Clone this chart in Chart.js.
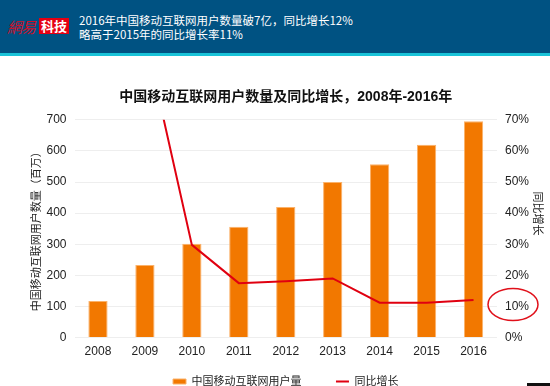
<!DOCTYPE html>
<html>
<head>
<meta charset="utf-8">
<script src="https://cdn.jsdelivr.net/npm/chart.js@4.4.0/dist/chart.umd.min.js"></script>
<style>
  html, body { margin: 0; padding: 0; background: #fff; }
  body { width: 550px; height: 386px; position: relative; overflow: hidden;
         font-family: "Liberation Sans", "Noto Sans CJK SC", sans-serif; }
  #banner { position: absolute; left: 0; top: 0; width: 550px; height: 53px; background: #005282; }
  #stripe { position: absolute; left: 0; top: 53px; width: 550px; height: 3px; background: #19c3d8; }
  #logo1 { position: absolute; left: 7px; top: 16px; color: #d0102a; font-size: 15px;
           font-family: "Noto Sans CJK TC", serif; font-style: italic; letter-spacing: -1px; }
  #logo2 { position: absolute; left: 39px; top: 18px; width: 30px; height: 16px; background: #e60012;
           color: #fff; font-size: 13px; font-weight: bold; line-height: 16px; text-align: center;
           font-family: "Noto Sans CJK SC", serif; }
  #head { position: absolute; left: 79px; top: 13px; color: #fff; font-size: 11.5px; line-height: 14px;
          font-family: "Noto Sans CJK SC", sans-serif; }
  #box { position: absolute; left: 0; top: 56px; width: 550px; height: 330px; }
  #corner { position: absolute; left: 527px; top: 383px; width: 23px; height: 3px; background: #111; }
</style>
</head>
<body>
<div id="banner"></div>
<div id="stripe"></div>
<div id="logo1">網易</div>
<div id="logo2">科技</div>
<div id="head">2016年中国移动互联网用户数量破7亿，同比增长12%<br>略高于2015年的同比增长率11%</div>
<div id="box"><canvas id="chart"></canvas></div>
<div id="corner"></div>
<script>
const years = ['2008', '2009', '2010', '2011', '2012', '2013', '2014', '2015', '2016'];
const users = [118, 233, 302, 356, 420, 500, 557, 620, 695];
const growth = [null, 97, 29.8, 17.5, 18.1, 19.0, 11.2, 11.2, 12.1];
const userTicks = [0, 100, 200, 300, 400, 500, 600, 700];
const growthTicks = [0, 10, 20, 30, 40, 50, 60, 70];

const cjk = '"Liberation Sans", "Noto Sans CJK SC", sans-serif';

// red ring drawn around the 10% label on the right axis
const ringPlugin = {
  id: 'ring',
  afterDraw(chart) {
    const ctx = chart.ctx;
    const y1 = chart.scales.y1;
    const cy = y1.getPixelForValue(10) - 2;
    const cx = chart.chartArea.right + 16;
    ctx.save();
    ctx.strokeStyle = '#e0101a';
    ctx.lineWidth = 1.5;
    ctx.beginPath();
    ctx.ellipse(cx, cy, 25, 16, 0, 0, Math.PI * 2);
    ctx.stroke();
    ctx.restore();
  }
};

// legend sits lower than chart.js puts it, trim the spare space under it
const legendFitPlugin = {
  id: 'legendFit',
  beforeInit(chart) {
    const fit = chart.legend.fit;
    chart.legend.fit = function () {
      fit.call(this);
      this.height -= 11;
    };
  }
};

new Chart(document.getElementById('chart').getContext('2d'), {
  data: {
    labels: years,
    datasets: [
      {
        type: 'line',
        label: '同比增长',
        data: growth,
        yAxisID: 'y1',
        borderColor: '#e00010',
        backgroundColor: '#e00010',
        borderWidth: 2,
        pointRadius: 0,
        tension: 0,
        order: 0
      },
      {
        type: 'bar',
        label: '中国移动互联网用户量',
        data: users,
        yAxisID: 'y',
        backgroundColor: '#f27800',
        borderColor: '#fbb26a',
        borderWidth: 1,
        categoryPercentage: 1,
        barPercentage: 0.41,
        order: 1
      }
    ]
  },
  options: {
    responsive: true,
    maintainAspectRatio: false,
    animation: false,
    layout: { padding: { left: 28, right: 4, top: 33, bottom: 0 } },
    plugins: {
      title: {
        display: true,
        text: '中国移动互联网用户数量及同比增长，2008年-2016年',
        fullSize: false,
        color: '#111',
        font: { family: cjk, size: 14, weight: 'bold' },
        padding: { top: 0, bottom: 14 }
      },
      legend: {
        position: 'bottom',
        reverse: true,
        fullSize: false,
        labels: {
          color: '#222',
          font: { family: cjk, size: 11 },
          usePointStyle: true,
          pointStyleWidth: 13,
          boxHeight: 5,
          padding: 10,
          generateLabels(chart) {
            const items = Chart.defaults.plugins.legend.labels.generateLabels(chart);
            items.forEach(it => {
              if (it.datasetIndex === 0) {
                it.pointStyle = 'line';
              } else {
                it.pointStyle = 'rect';
                it.text = it.text + '        ';
              }
            });
            return items;
          }
        }
      },
      tooltip: { enabled: false }
    },
    scales: {
      x: {
        grid: { display: false, drawTicks: false },
        border: { display: false },
        ticks: { color: '#222', font: { family: cjk, size: 12 }, padding: 7 }
      },
      y: {
        position: 'left',
        min: 0,
        max: 700,
        afterBuildTicks: (s) => { s.ticks = userTicks.map(v => ({ value: v })); },
        afterFit: (s) => { s.width = 46.5; },
        grid: { color: '#eeeeee', drawTicks: false },
        border: { display: false },
        ticks: { color: '#222', font: { family: cjk, size: 12 }, padding: 8 },
        title: {
          display: true,
          text: '中国移动互联网用户数量（百万）',
          color: '#222',
          font: { family: cjk, size: 11, lineHeight: 1 },
          padding: { top: 3.5, bottom: 0 }
        }
      },
      y1: {
        position: 'right',
        min: 0,
        max: 70,
        afterBuildTicks: (s) => { s.ticks = growthTicks.map(v => ({ value: v })); },
        afterFit: (s) => { s.width = 49; },
        grid: { display: false, drawTicks: false },
        border: { display: false },
        ticks: { color: '#222', font: { family: cjk, size: 12 }, padding: 8,
                 callback: (v) => v + '%' },
        title: {
          display: true,
          text: '同比增长          ',
          color: '#222',
          font: { family: cjk, size: 11, lineHeight: 1 },
          padding: { top: 3, bottom: 0 }
        }
      }
    }
  },
  plugins: [ringPlugin, legendFitPlugin]
});
</script>
</body>
</html>
